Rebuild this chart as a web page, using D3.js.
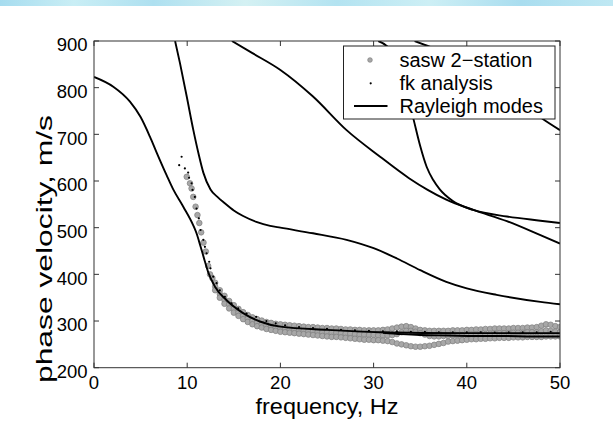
<!DOCTYPE html>
<html><head><meta charset="utf-8">
<script src="https://cdn.jsdelivr.net/npm/d3@7/dist/d3.min.js"></script>
<style>body{margin:0;background:#fff}svg{display:block}text{font-family:"Liberation Sans",Arial,Helvetica,sans-serif;fill:#000}</style>
</head><body>
<script>
// ---------- DATA ----------
const xTicks = [0, 10, 20, 30, 40, 50];
const yTicks = [200, 300, 400, 500, 600, 700, 800, 900];
const legendLabels = ["sasw 2\u2212station", "fk analysis", "Rayleigh modes"];

// Rayleigh modes
const mode1F = [0, 2.07, 3.86, 5.0, 6.0, 6.7, 7.8, 8.5, 9.58, 10.65, 11.0, 11.4, 11.75, 12.3, 13.0, 14.2, 16.0, 17.8, 20.0, 25, 30.7, 40, 50];
const mode1V = [823, 802, 770, 737, 695, 662, 612, 582, 545, 505, 488, 462, 438, 402, 373, 345, 317, 299, 288, 281, 276, 274, 274];
const mode1bF = [31, 33, 35, 38, 41, 44, 47, 50];
const mode1bV = [275, 272, 270, 269, 268, 268, 267, 267];
const mode2F = [8.7, 9.23, 9.95, 10.66, 11.2, 11.73, 12.5, 13.3, 14.0, 15.0, 16.0, 17.5, 18.9, 20, 23.5, 27.1, 30, 32.5, 35, 37.8, 40, 43.2, 47.9, 50];
const mode2V = [900, 852, 781, 709, 660, 618, 582, 565, 553, 537, 525, 512, 504, 500, 488, 474, 456, 434, 409, 384, 370, 356, 341, 336];
const mode3F = [14.8, 17, 20, 23.5, 27.1, 30.7, 33.8, 35.8, 37.8, 40.7, 44.3, 47.9, 50];
const mode3V = [900, 874, 838, 781, 709, 652, 606, 581, 560, 538, 514, 484, 466];
const mode4F = [30.5, 31.5, 32.5, 33.5, 34.3, 35.0, 35.7, 36.4, 37.1, 38.5, 40.7, 44.3, 47.9, 50];
const mode4V = [900, 888, 858, 795, 731, 675, 630, 602, 582, 557, 538, 524, 515, 510];
const mode5F = [34.4, 36, 40, 44, 48, 50];
const mode5V = [900, 888, 850, 800, 735, 709];

// sasw 2-station: sparse low-frequency points
const saswLowF = [9.95, 10.3, 10.47, 10.65, 10.9, 11.1, 11.3, 11.5, 11.75, 12.0, 12.25, 12.45, 12.7];
const saswLowV = [609, 595, 584, 566, 545, 527, 510, 490, 468, 449, 418, 400, 392];
// sasw 2-station: dense band (upper / middle / lower readings)
const bandF = [13,13.5,14,14.5,15,15.5,16,16.5,17,17.5,18,18.5,19,19.5,20,20.5,21,21.5,22,22.5,23,23.5,24,24.5,25,25.5,26,26.5,27,27.5,28,28.5,29,29.5,30,30.5,31,31.5,32,32.5,33,33.5,34,34.5,35,35.5,36,36.5,37,37.5,38,38.5,39,39.5,40,40.5,41,41.5,42,42.5,43,43.5,44,44.5,45,45.5,46,46.5,47,47.5,48,48.5,49,49.5,50];
const bandHi = [382,366,354,343,334,326,319,313,308,304,301,298,296,294,293,292,291,290,289,288,287,287,286,285,285,284,284,283,282,282,281,281,280,280,280,280,281,282,284,286,288,289,287,284,281,280,279,279,279,279,279,280,280,280,281,281,282,282,283,283,284,284,284,284,285,285,285,286,286,287,290,293,292,289,287];
const bandMid = [374,358,345,335,326,318,311,305,300,296,293,290,288,286,284,283,282,281,280,279,278,278,277,276,276,275,275,274,273,273,272,271,271,270,270,269,269,269,270,272,276,279,279,277,274,271,268,267,267,268,268,269,269,270,270,271,271,272,272,273,273,274,274,274,275,275,275,276,276,276,278,280,279,277,276];
const bandLo = [366,350,337,327,318,311,304,298,293,289,286,283,281,279,277,276,275,274,273,272,271,270,269,268,267,266,266,265,264,263,262,261,260,260,259,259,258,257,255,252,250,248,246,245,245,246,247,249,251,253,256,257,258,259,260,261,261,262,262,263,263,264,264,264,265,265,265,266,266,266,266,267,267,267,267];

// fk analysis
const fkF = [9.14, 9.4, 9.75, 10.1, 10.2, 10.47, 10.57, 10.82, 11.0, 11.25, 11.43, 11.73, 11.9, 12.08, 12.36, 12.5, 12.79, 13.15, 13.5, 14.04, 14.76, 15.47, 16.37, 17.4, 18.5, 19.5, 20.5, 22, 23.5, 25, 26.5, 28, 29.5, 31, 32.5, 34, 35.5, 37, 38.5, 40, 41.5, 43, 44.5, 46, 47.5, 49];
const fkV = [634, 652, 627, 618, 607, 595, 581, 566, 541, 520, 495, 474, 459, 445, 427, 413, 395, 381, 366, 352, 338, 327, 316, 309, 300, 295, 291, 287, 285, 283, 281, 280, 279, 278, 278, 277, 277, 276, 276, 276, 276, 275, 276, 276, 276, 277];

// ---------- CHART ----------
const W = 613, H = 445;
const M = {left: 94, top: 41, right: 560, bottom: 367.7};
const svg = d3.select("body").append("svg").attr("width", W).attr("height", H);

// top banner
const defs = svg.append("defs");
const g0 = defs.append("linearGradient").attr("id", "ban").attr("x1", 0).attr("x2", 1);
[["0", "#a6dcef"], ["0.12", "#c9eef5"], ["0.25", "#aee0f0"], ["0.4", "#d4f1f3"], ["0.55", "#b3e3f1"], ["0.7", "#cdeff5"], ["0.85", "#a9ddef"], ["1", "#bfe8f3"]]
  .forEach(([o, c]) => g0.append("stop").attr("offset", o).attr("stop-color", c));
svg.append("rect").attr("x", 0).attr("y", 0).attr("width", W).attr("height", 6).attr("fill", "url(#ban)");

defs.append("clipPath").attr("id", "clip").append("rect")
  .attr("x", M.left).attr("y", M.top).attr("width", M.right - M.left).attr("height", M.bottom - M.top);

const x = d3.scaleLinear().domain([0, 50]).range([M.left, M.right]);
const y = d3.scaleLinear().domain([200, 900]).range([M.bottom, M.top]);

const plot = svg.append("g").attr("clip-path", "url(#clip)");

// sasw markers
const saswPts = [];
saswLowF.forEach((f, i) => saswPts.push([f, saswLowV[i]]));
bandF.forEach((f, i) => { saswPts.push([f, bandHi[i]]); saswPts.push([f, bandMid[i]]); saswPts.push([f, bandLo[i]]); });
plot.append("g").selectAll("circle").data(saswPts).join("circle")
  .attr("cx", d => x(d[0])).attr("cy", d => y(d[1])).attr("r", 2.8)
  .attr("fill", "#a8a8a8").attr("stroke", "#7e7e7e").attr("stroke-width", 0.7);

// modes
const line = d3.line().x(d => x(d[0])).y(d => y(d[1])).curve(d3.curveMonotoneX);
const modes = [[mode1F, mode1V], [mode1bF, mode1bV], [mode2F, mode2V], [mode3F, mode3V], [mode4F, mode4V], [mode5F, mode5V]];
modes.forEach(([F, V]) => {
  plot.append("path").attr("d", line(F.map((f, i) => [f, V[i]])))
    .attr("fill", "none").attr("stroke", "#000").attr("stroke-width", 1.9);
});

// fk dots
plot.append("g").selectAll("circle").data(fkF.map((f, i) => [f, fkV[i]])).join("circle")
  .attr("cx", d => x(d[0])).attr("cy", d => y(d[1])).attr("r", 1.1).attr("fill", "#000");

// axes box + inward ticks
const ax = svg.append("g").attr("stroke", "#333").attr("stroke-width", 1).attr("fill", "none");
ax.append("rect").attr("x", M.left).attr("y", M.top).attr("width", M.right - M.left).attr("height", M.bottom - M.top);
const TL = 5;
xTicks.forEach(t => {
  ax.append("line").attr("x1", x(t)).attr("x2", x(t)).attr("y1", M.bottom).attr("y2", M.bottom - TL);
  ax.append("line").attr("x1", x(t)).attr("x2", x(t)).attr("y1", M.top).attr("y2", M.top + TL);
});
yTicks.forEach(t => {
  ax.append("line").attr("y1", y(t)).attr("y2", y(t)).attr("x1", M.left).attr("x2", M.left + TL);
  ax.append("line").attr("y1", y(t)).attr("y2", y(t)).attr("x1", M.right).attr("x2", M.right - TL);
});

// tick labels
svg.append("g").selectAll("text").data(xTicks).join("text")
  .attr("x", d => x(d)).attr("y", 389).attr("text-anchor", "middle").attr("font-size", 18.5).text(d => d);
svg.append("g").selectAll("text").data(yTicks).join("text")
  .attr("x", 87.5).attr("y", d => y(d) + 10.3).attr("text-anchor", "end").attr("font-size", 18.5).text(d => d);

// axis labels
svg.append("text").attr("x", 327).attr("y", 413.5).attr("text-anchor", "middle").attr("font-size", 22)
  .attr("textLength", 143).attr("lengthAdjust", "spacingAndGlyphs").text("frequency, Hz");
svg.append("text").attr("transform", "translate(52,249) rotate(-90)").attr("text-anchor", "middle")
  .attr("font-size", 22).attr("textLength", 268).attr("lengthAdjust", "spacingAndGlyphs").text("phase velocity, m/s");

// legend
const lg = svg.append("g");
lg.append("rect").attr("x", 343.5).attr("y", 46).attr("width", 211.5).attr("height", 73)
  .attr("fill", "#fff").attr("stroke", "#222").attr("stroke-width", 1);
const ly = [60, 83.3, 106];
lg.append("circle").attr("cx", 370).attr("cy", ly[0]).attr("r", 2.3).attr("fill", "#a8a8a8").attr("stroke", "#7e7e7e").attr("stroke-width", 0.7);
lg.append("circle").attr("cx", 370.7).attr("cy", ly[1]).attr("r", 1.1).attr("fill", "#000");
lg.append("line").attr("x1", 354).attr("x2", 387.5).attr("y1", ly[2]).attr("y2", ly[2]).attr("stroke", "#000").attr("stroke-width", 1.9);
lg.selectAll("text.l").data(legendLabels).join("text").attr("class", "l")
  .attr("x", 399.5).attr("y", (d, i) => ly[i] + 6.8).attr("font-size", 20).text(d => d);
</script>
</body></html>
